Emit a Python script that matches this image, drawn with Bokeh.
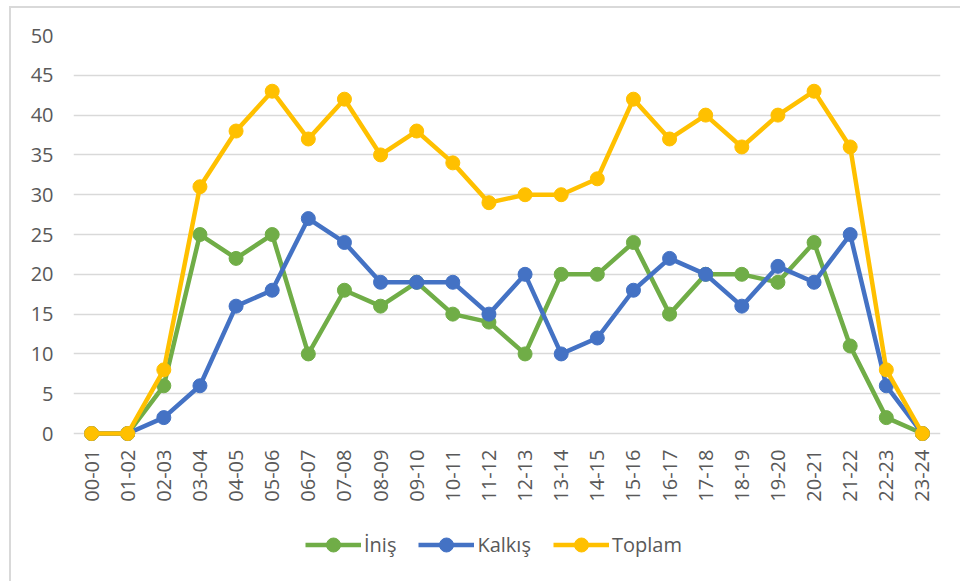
from bokeh.plotting import figure
from bokeh.models import Range1d, FixedTicker, Legend, LegendItem, ColumnDataSource
from bokeh.layouts import column
from bokeh.embed import file_html
from bokeh.resources import INLINE
import math

hours = ["00-01", "01-02", "02-03", "03-04", "04-05", "05-06", "06-07", "07-08",
         "08-09", "09-10", "10-11", "11-12", "12-13", "13-14", "14-15", "15-16",
         "16-17", "17-18", "18-19", "19-20", "20-21", "21-22", "22-23", "23-24"]
inis = [0, 0, 6, 25, 22, 25, 10, 18, 16, 19, 15, 14, 10, 20, 20, 24, 15, 20, 20, 19, 24, 11, 2, 0]
kalkis = [0, 0, 2, 6, 16, 18, 27, 24, 19, 19, 19, 15, 20, 10, 12, 18, 22, 20, 16, 21, 19, 25, 6, 0]
toplam = [0, 0, 8, 31, 38, 43, 37, 42, 35, 38, 34, 29, 30, 30, 32, 42, 37, 40, 36, 40, 43, 36, 8, 0]
y_ticks = [0, 5, 10, 15, 20, 25, 30, 35, 40, 45, 50]

series = [("İniş", inis, "#70AD47"), ("Kalkış", kalkis, "#4472C4"), ("Toplam", toplam, "#FFC000")]

FONT = "Open Sans"
TXT = "#595959"
LW = 4.5
MS = 14

p = figure(x_range=hours, y_range=Range1d(-1.0, 50),
           output_backend="svg", toolbar_location=None,
           width=949, height=507,
           min_border_left=62, min_border_right=20, min_border_top=27, min_border_bottom=74,
           background_fill_color="white", border_fill_color="white")
p.outline_line_color = None

for name, vals, col in series:
    src = ColumnDataSource(dict(x=hours, y=vals))
    p.line("x", "y", source=src, line_color=col, line_width=LW, line_join="round")
    p.scatter("x", "y", source=src, size=MS, fill_color=col, line_color=col)

p.yaxis.ticker = FixedTicker(ticks=y_ticks)
p.ygrid.ticker = FixedTicker(ticks=y_ticks)
p.ygrid.grid_line_color = "#D9D9D9"
p.ygrid.grid_line_width = 1.5
p.xgrid.grid_line_color = None

for ax in (p.xaxis[0], p.yaxis[0]):
    ax.axis_line_color = None
    ax.major_tick_line_color = None
    ax.minor_tick_line_color = None
    ax.major_tick_out = 0
    ax.minor_tick_out = 0
    ax.major_label_text_font = FONT
    ax.major_label_text_font_size = "20px"
    ax.major_label_text_color = TXT

p.yaxis.major_label_standoff = 20
p.xaxis.major_label_standoff = 8
p.xaxis.major_label_orientation = math.pi / 2

# legend strip below the chart (its sample renderers sit outside the visible range)
lg = figure(width=949, height=66, output_backend="svg", toolbar_location=None,
            x_range=Range1d(0, 1), y_range=Range1d(0, 1),
            x_axis_location=None, y_axis_location=None,
            min_border=0, background_fill_color="white", border_fill_color="white")
lg.outline_line_color = None
lg.grid.grid_line_color = None
items = []
for name, vals, col in series:
    r1 = lg.line(x=[5, 6], y=[5, 5], line_color=col, line_width=LW)
    r2 = lg.scatter(x=[5], y=[5], size=MS, fill_color=col, line_color=col)
    items.append(LegendItem(label=name, renderers=[r1, r2]))

legend = Legend(items=items, orientation="horizontal", location=(232, 19),
                glyph_width=56, glyph_height=35, label_standoff=3, spacing=22,
                label_text_font=FONT, label_text_font_size="20px", label_text_color=TXT,
                border_line_color=None, background_fill_alpha=0, margin=0, padding=0)
lg.add_layout(legend, "center")

layout = column(p, lg, spacing=0, margin=(6, 0, 0, 9),
                styles={"border-top": "2px solid #D9D9D9", "border-left": "2px solid #D9D9D9"})

open("out.html", "w").write(file_html(layout, INLINE))
